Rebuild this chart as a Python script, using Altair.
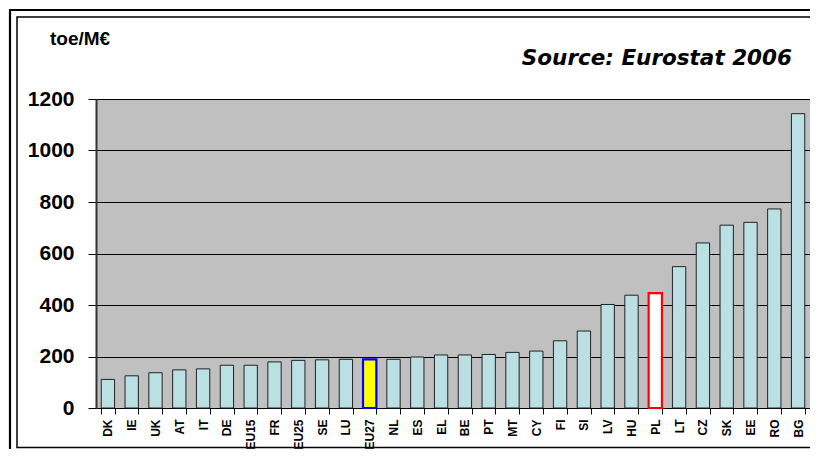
import altair as alt
import pandas as pd

countries = ["DK", "IE", "UK", "AT", "IT", "DE", "EU15", "FR", "EU25", "SE", "LU",
             "EU27", "NL", "ES", "EL", "BE", "PT", "MT", "CY", "FI", "SI", "LV",
             "HU", "PL", "LT", "CZ", "SK", "EE", "RO", "BG"]
values = [111, 125, 137, 148, 152, 166, 166, 179, 185, 187, 189,
          189, 189, 198, 206, 206, 208, 216, 221, 261, 299, 402,
          438, 446, 549, 641, 710, 721, 773, 1143]
y_ticks = [0, 200, 400, 600, 800, 1000, 1200]

df = pd.DataFrame({"country": countries, "value": values})

SVG_W, SVG_H = 802, 441
PAD_L, PAD_T = 88, 91
W, H = SVG_W - PAD_L, 309

fill = (alt.when(alt.datum.country == "EU27").then(alt.value("#FFFF00"))
        .when(alt.datum.country == "PL").then(alt.value("#FFFFFF"))
        .otherwise(alt.value("#BAE0E3")))
stroke = (alt.when(alt.datum.country == "EU27").then(alt.value("#0000FF"))
          .when(alt.datum.country == "PL").then(alt.value("#FF0000"))
          .otherwise(alt.value("#222222")))
sw = (alt.when((alt.datum.country == "EU27") | (alt.datum.country == "PL"))
      .then(alt.value(2.2)).otherwise(alt.value(1)))

bars = alt.Chart(df).mark_bar().encode(
    x=alt.X("country:N", sort=countries, title=None,
            scale=alt.Scale(paddingInner=0.44, paddingOuter=0.22),
            axis=alt.Axis(labelAngle=270, labelAlign="right", labelBaseline="middle",
                          labelFont="Liberation Sans", labelFontWeight="bold",
                          labelFontSize=12, labelColor="black", labelPadding=5,
                          tickBand="extent", tickSize=6, tickColor="black",
                          domainColor="black", domainWidth=1, grid=False)),
    y=alt.Y("value:Q", title=None,
            scale=alt.Scale(domain=[0, 1200], nice=False),
            axis=alt.Axis(values=y_ticks, format="d", labelFont="Liberation Sans",
                          labelFontWeight="bold", labelFontSize=21,
                          labelColor="black", labelPadding=14, tickSize=8,
                          tickColor="black", domainColor="#333333", domainWidth=2,
                          grid=True, gridColor="black", gridWidth=1, gridOpacity=1)),
    fill=fill,
    stroke=stroke,
    strokeWidth=sw,
)

one = pd.DataFrame({"a": [0]})

outer = alt.Chart(one).mark_rect(fillOpacity=0, stroke="black", strokeWidth=2.2).encode(
    x=alt.value(10 - 8 - PAD_L), x2=alt.value(W + 200),
    y=alt.value(10 - 8 - PAD_T), y2=alt.value(SVG_H + 100))
inner = alt.Chart(one).mark_rect(fillOpacity=0, stroke="black", strokeWidth=1.5).encode(
    x=alt.value(17 - 8 - PAD_L), x2=alt.value(W + 200),
    y=alt.value(17 - 8 - PAD_T), y2=alt.value(SVG_H - PAD_T - 1.5))

unit = alt.Chart(one).mark_text(text="toe/M€", font="Liberation Sans", fontWeight="bold",
                                 fontSize=19, align="left", baseline="alphabetic",
                                 color="black").encode(
    x=alt.value(50 - 8 - PAD_L), y=alt.value(45 - 8 - PAD_T))
source = alt.Chart(one).mark_text(text="Source: Eurostat 2006", font="DejaVu Sans",
                                   fontWeight="bold", fontStyle="italic", fontSize=21.5,
                                   align="right", baseline="alphabetic",
                                   color="black").encode(
    x=alt.value(792 - 8 - PAD_L), y=alt.value(65 - 8 - PAD_T))

chart = alt.layer(bars, outer, inner, unit, source).properties(
    width=W, height=H,
    autosize=alt.AutoSizeParams(type="none"),
    padding={"left": PAD_L, "top": PAD_T, "right": 0, "bottom": SVG_H - PAD_T - H},
    background="white",
).configure_view(fill="#C0C0C0", stroke="black", strokeWidth=1)

chart.save("out.html", embed_options={"renderer": "svg", "actions": False})
